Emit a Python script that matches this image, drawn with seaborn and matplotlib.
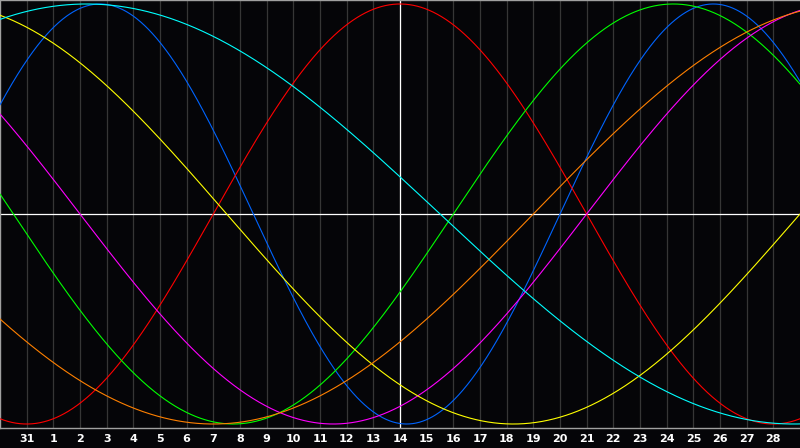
import numpy as np
import pandas as pd
import matplotlib
matplotlib.use("Agg")
import matplotlib.pyplot as plt
import seaborn as sns

# biorhythm cycles (period in days) and their colours
cycle_names = ["Physical", "Emotional", "Intellectual", "Intuitive",
               "Aesthetic", "Awareness", "Spiritual"]
cycle_days = [23, 28, 33, 38, 43, 48, 53]
cycle_colors = ["#0064ff", "#ff0000", "#00ff00", "#ff00ff",
                "#ffff00", "#ff8000", "#00ffff"]

# age in days at the left edge of the chart, today sits in the middle
age_at_start = 22588
today_index = 15

# x axis: 30 day window, labels on the inner gridlines
day_labels = ["31"] + [str(d) for d in range(1, 29)]

sns.set_theme(style="dark")

t = np.linspace(0, 30, 1201)
rows = []
for name, period in zip(cycle_names, cycle_days):
    vals = np.sin(2 * np.pi * (age_at_start + t) / period)
    rows.append(pd.DataFrame({"day": t, "value": vals, "cycle": name}))
df = pd.concat(rows, ignore_index=True)

fig = plt.figure(figsize=(8, 4.48), dpi=100)
fig.patch.set_facecolor("#050508")
ax = fig.add_axes([0, 20 / 448, 1, 428 / 448])
ax.set_facecolor("#050508")

# day gridlines
for k in range(1, 30):
    ax.axvline(k, color="#363636", linewidth=0.9, zorder=1)

sns.lineplot(
    data=df, x="day", y="value", hue="cycle",
    palette=dict(zip(cycle_names, cycle_colors)),
    hue_order=cycle_names, legend=False, linewidth=0.8,
    ax=ax, zorder=3
)

# zero line and today marker
ax.axhline(0, color="white", linewidth=0.9, zorder=2)
ax.axvline(today_index, color="white", linewidth=0.9, zorder=2)

ax.set_xlim(0, 30)
ax.set_ylim(-1.019, 1.019)
ax.set_xticks(range(1, 30))
ax.set_xticklabels(day_labels, color="white", fontsize=8, fontweight="bold")
ax.set_yticks([])
ax.tick_params(axis="x", length=0, pad=4)
ax.set_xlabel("")
ax.set_ylabel("")
ax.grid(False)

for side in ["top", "left", "bottom"]:
    ax.spines[side].set_visible(True)
    ax.spines[side].set_color("#a0a0a0")
    ax.spines[side].set_linewidth(1.0)
ax.spines["right"].set_visible(False)

fig.savefig("out.png", dpi=100, facecolor=fig.get_facecolor())
